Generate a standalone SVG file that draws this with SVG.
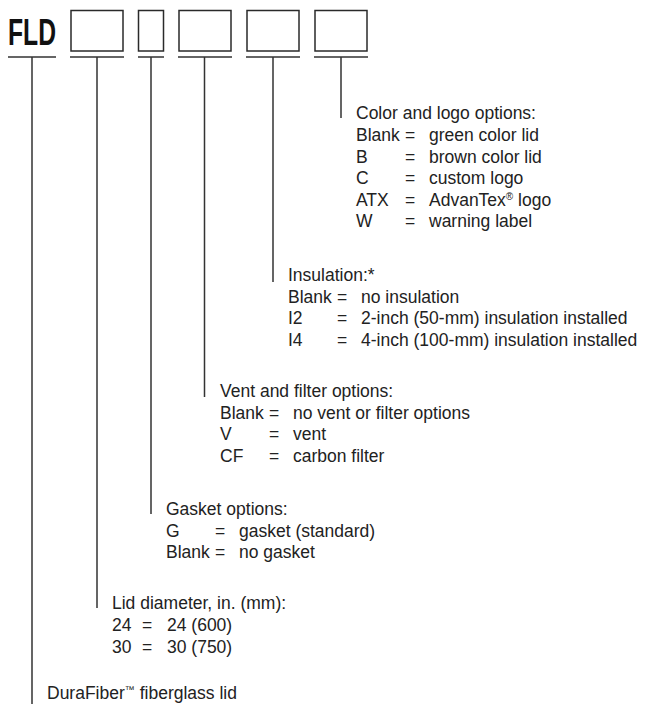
<svg xmlns="http://www.w3.org/2000/svg" width="645" height="704" viewBox="0 0 645 704">
<style>
.box{fill:none;stroke:#2a2a2a;stroke-width:1.5}
.ln{fill:none;stroke:#333;stroke-width:1.5}
.t{font-family:"Liberation Sans",Arial,sans-serif;font-size:17.5px;fill:#222}
.sup{font-size:10px}
.fld{font-family:"Liberation Sans",Arial,sans-serif;font-size:37px;font-weight:bold;fill:#111}
</style>
<rect width="645" height="704" fill="#fff"/>
<g id="code">
<text class="fld" x="8" y="45" textLength="48" lengthAdjust="spacingAndGlyphs">FLD</text>
<rect class="box" x="71" y="10.5" width="52" height="40.5"/>
<rect class="box" x="138.5" y="10.5" width="25" height="40.5"/>
<rect class="box" x="179" y="10.5" width="52" height="40.5"/>
<rect class="box" x="247" y="10.5" width="52" height="40.5"/>
<rect class="box" x="315" y="10.5" width="52" height="40.5"/>
</g>
<g id="connectors">
<path class="ln" d="M8 57H56M70 57H124M138 57H164M178 57H232M246 57H300M314 57H368"/>
<path class="ln" d="M32 57V704M97 57V608M151 57V514M204.5 57V397M273 57V282M341 57V118"/>
</g>
<g id="color">
<text class="t" x="356" y="119">Color and logo options:</text>
<text class="t" x="356" y="141">Blank</text><text class="t" x="405" y="141">=</text><text class="t" x="429" y="141">green color lid</text>
<text class="t" x="356" y="162.5">B</text><text class="t" x="405" y="162.5">=</text><text class="t" x="429" y="162.5">brown color lid</text>
<text class="t" x="356" y="184">C</text><text class="t" x="405" y="184">=</text><text class="t" x="429" y="184">custom logo</text>
<text class="t" x="356" y="205.5">ATX</text><text class="t" x="405" y="205.5">=</text><text class="t" x="429" y="205.5">AdvanTex<tspan class="sup" dy="-6">®</tspan><tspan dy="6"> logo</tspan></text>
<text class="t" x="356" y="227">W</text><text class="t" x="405" y="227">=</text><text class="t" x="429" y="227">warning label</text>
</g>
<g id="insulation">
<text class="t" x="288" y="281">Insulation:*</text>
<text class="t" x="288" y="302.5">Blank</text><text class="t" x="337" y="302.5">=</text><text class="t" x="361" y="302.5">no insulation</text>
<text class="t" x="288" y="324">I2</text><text class="t" x="337" y="324">=</text><text class="t" x="361" y="324">2-inch (50-mm) insulation installed</text>
<text class="t" x="288" y="345.5">I4</text><text class="t" x="337" y="345.5">=</text><text class="t" x="361" y="345.5">4-inch (100-mm) insulation installed</text>
</g>
<g id="vent">
<text class="t" x="220" y="397">Vent and filter options:</text>
<text class="t" x="220" y="418.5">Blank</text><text class="t" x="269" y="418.5">=</text><text class="t" x="293" y="418.5">no vent or filter options</text>
<text class="t" x="220" y="440">V</text><text class="t" x="269" y="440">=</text><text class="t" x="293" y="440">vent</text>
<text class="t" x="220" y="461.5">CF</text><text class="t" x="269" y="461.5">=</text><text class="t" x="293" y="461.5">carbon filter</text>
</g>
<g id="gasket">
<text class="t" x="166" y="515">Gasket options:</text>
<text class="t" x="166" y="536.5">G</text><text class="t" x="215" y="536.5">=</text><text class="t" x="239" y="536.5">gasket (standard)</text>
<text class="t" x="166" y="558">Blank</text><text class="t" x="215" y="558">=</text><text class="t" x="239" y="558">no gasket</text>
</g>
<g id="lid">
<text class="t" x="112" y="609">Lid diameter, in. (mm):</text>
<text class="t" x="112" y="631">24</text><text class="t" x="142" y="631">=</text><text class="t" x="167" y="631">24 (600)</text>
<text class="t" x="112" y="653">30</text><text class="t" x="142" y="653">=</text><text class="t" x="167" y="653">30 (750)</text>
</g>
<g id="durafiber">
<text class="t" x="47" y="699">DuraFiber<tspan class="sup" dy="-6">™</tspan><tspan dy="6"> fiberglass lid</tspan></text>
</g>
</svg>
